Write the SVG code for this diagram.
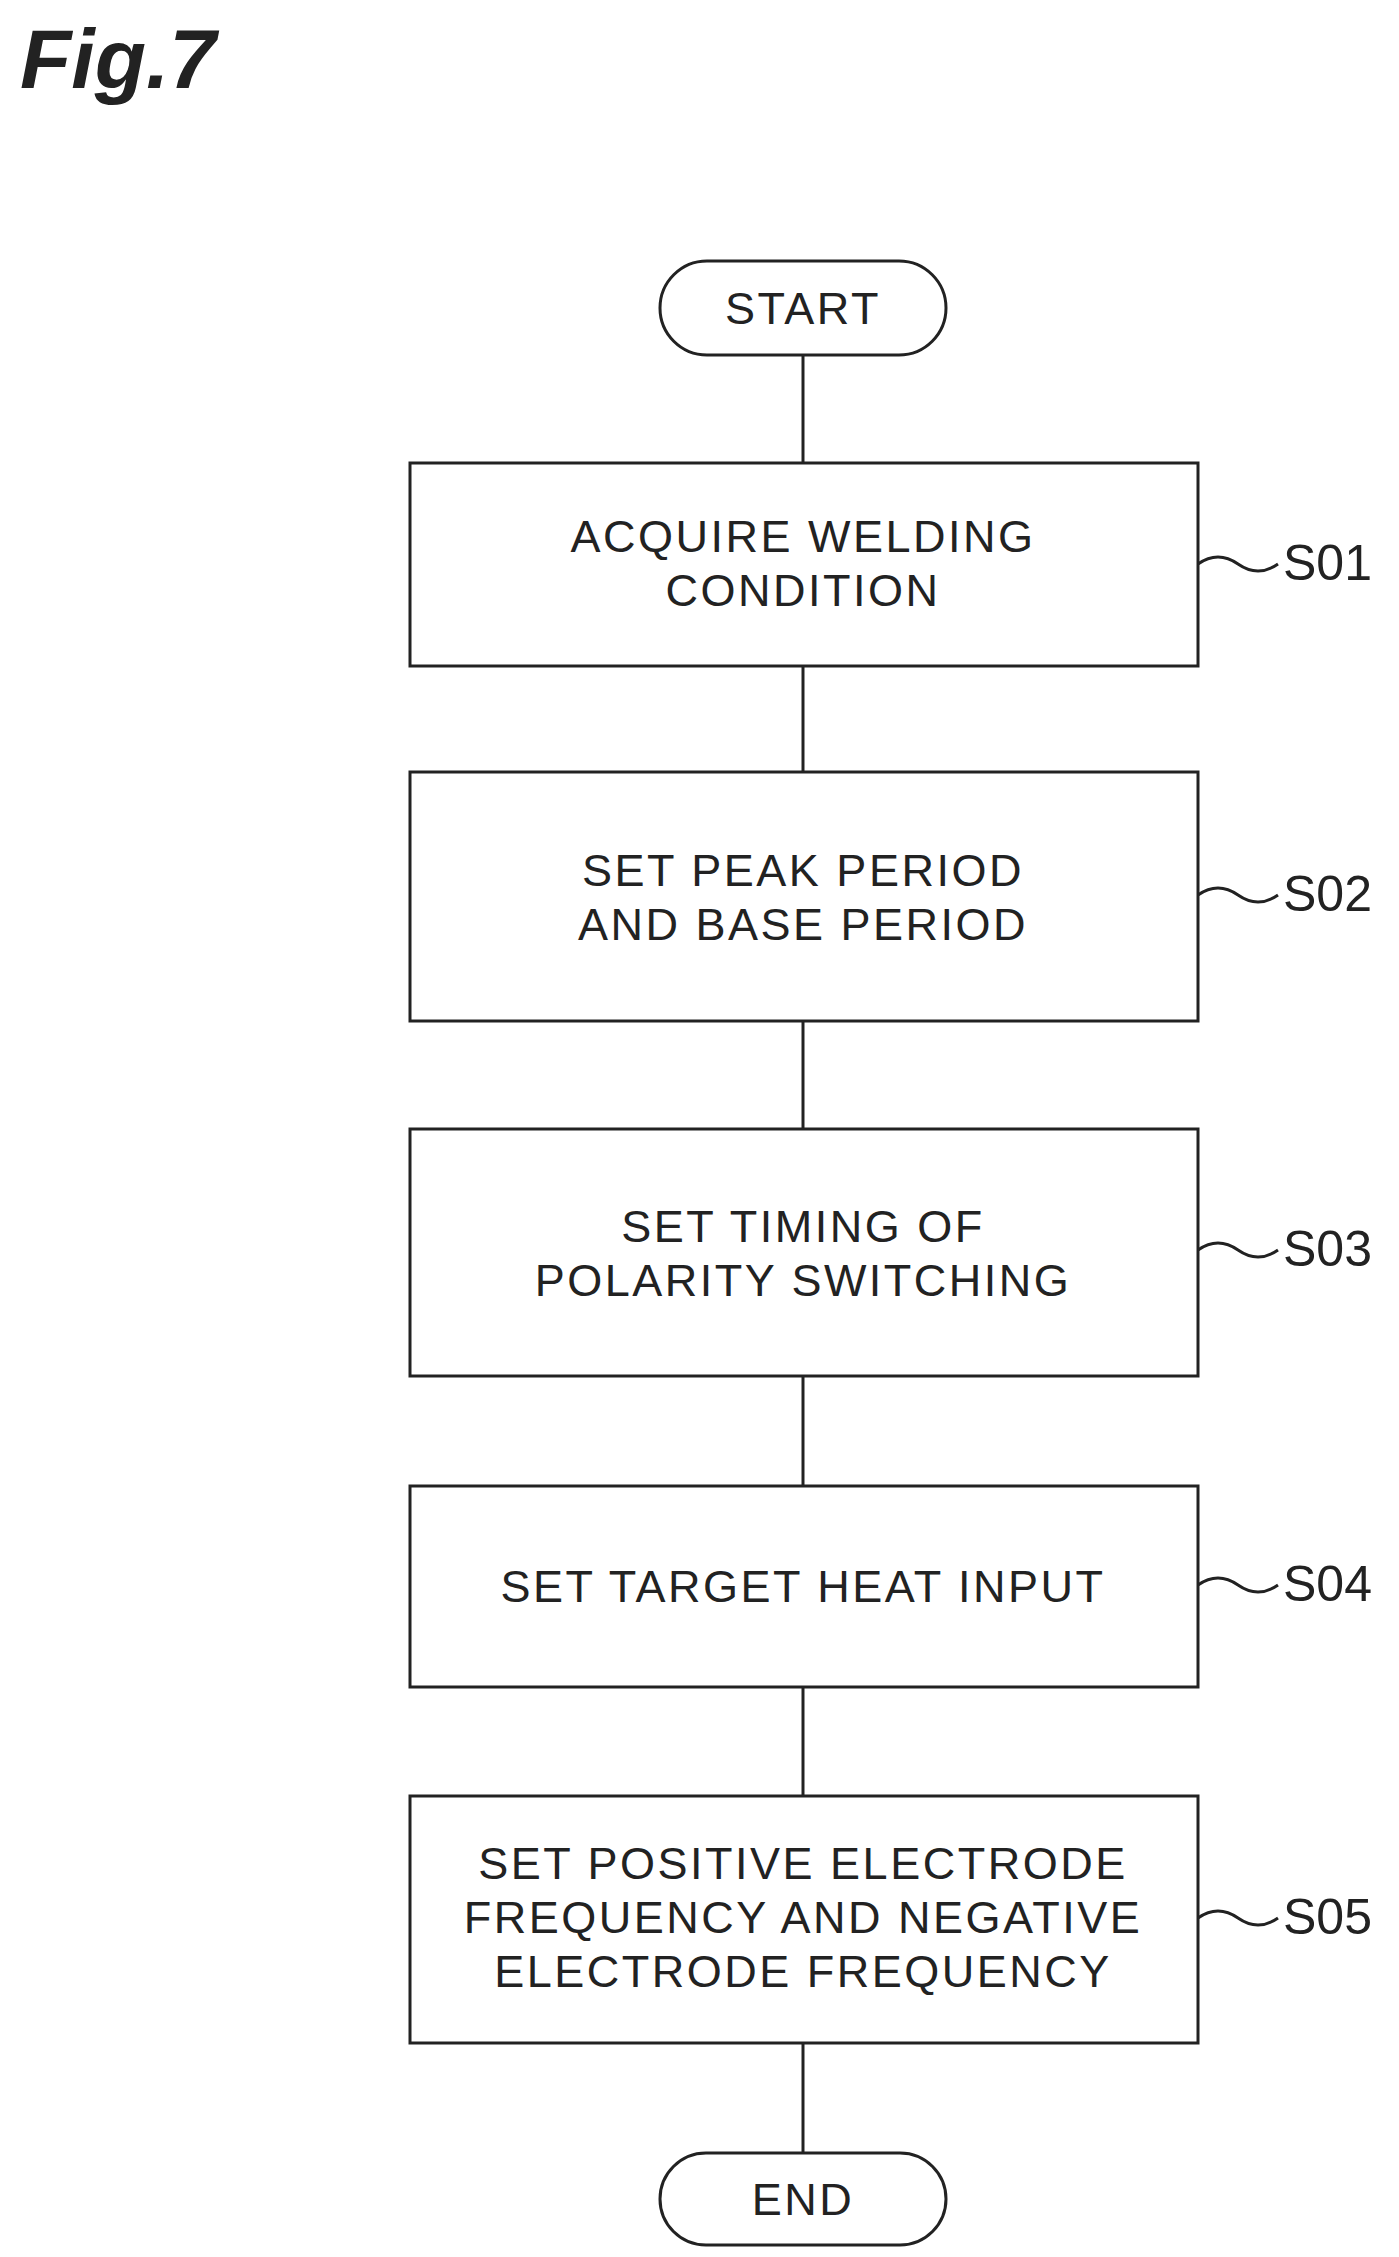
<svg xmlns="http://www.w3.org/2000/svg" width="1399" height="2257" viewBox="0 0 1399 2257">
<style>
.n{fill:#fff;stroke:#222;stroke-width:3}
.t{font-family:"Liberation Sans",Arial,sans-serif;font-size:45px;letter-spacing:2.5px;fill:#222;text-anchor:middle}
.l{font-family:"Liberation Sans",Arial,sans-serif;font-size:50px;fill:#222}
.c{fill:none;stroke:#222;stroke-width:3}
</style>
<rect width="1399" height="2257" fill="#fff"/>
<text x="20" y="88" font-family="Liberation Sans,Arial,sans-serif" font-size="84" font-weight="bold" font-style="italic" fill="#222">Fig.7</text>
<g id="connectors">
<line class="c" x1="803" y1="355" x2="803" y2="463"/>
<line class="c" x1="803" y1="666" x2="803" y2="772"/>
<line class="c" x1="803" y1="1021" x2="803" y2="1129"/>
<line class="c" x1="803" y1="1376" x2="803" y2="1486"/>
<line class="c" x1="803" y1="1687" x2="803" y2="1796"/>
<line class="c" x1="803" y1="2043" x2="803" y2="2153"/>
<path class="c" d="M1198 564 q20 -14 40 0 t40 0"/>
<path class="c" d="M1198 895 q20 -14 40 0 t40 0"/>
<path class="c" d="M1198 1250 q20 -14 40 0 t40 0"/>
<path class="c" d="M1198 1585 q20 -14 40 0 t40 0"/>
<path class="c" d="M1198 1918 q20 -14 40 0 t40 0"/>
</g>
<g id="start"><rect class="n" x="660" y="261" width="286" height="94" rx="47"/><text class="t" x="803" y="324">START</text></g>
<g id="s01"><rect class="n" x="410" y="463" width="788" height="203"/><text class="t" x="803" y="552">ACQUIRE WELDING</text><text class="t" x="803" y="606">CONDITION</text><text class="l" x="1283" y="580">S01</text></g>
<g id="s02"><rect class="n" x="410" y="772" width="788" height="249"/><text class="t" x="803" y="886">SET PEAK PERIOD</text><text class="t" x="803" y="940">AND BASE PERIOD</text><text class="l" x="1283" y="911">S02</text></g>
<g id="s03"><rect class="n" x="410" y="1129" width="788" height="247"/><text class="t" x="803" y="1242">SET TIMING OF</text><text class="t" x="803" y="1296">POLARITY SWITCHING</text><text class="l" x="1283" y="1266">S03</text></g>
<g id="s04"><rect class="n" x="410" y="1486" width="788" height="201"/><text class="t" x="803" y="1602">SET TARGET HEAT INPUT</text><text class="l" x="1283" y="1601">S04</text></g>
<g id="s05"><rect class="n" x="410" y="1796" width="788" height="247"/><text class="t" x="803" y="1879">SET POSITIVE ELECTRODE</text><text class="t" x="803" y="1933">FREQUENCY AND NEGATIVE</text><text class="t" x="803" y="1987">ELECTRODE FREQUENCY</text><text class="l" x="1283" y="1934">S05</text></g>
<g id="end"><rect class="n" x="660" y="2153" width="286" height="92" rx="46"/><text class="t" x="803" y="2215">END</text></g>
</svg>
